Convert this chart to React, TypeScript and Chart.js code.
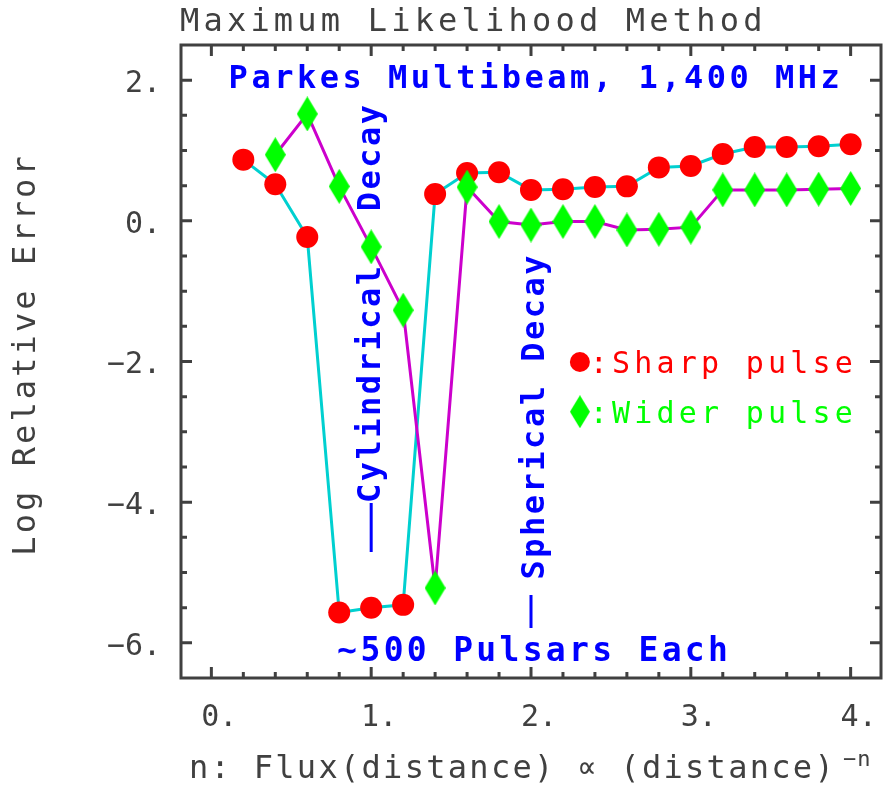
import React, { useEffect, useRef } from 'react';
import { Chart, registerables } from 'chart.js';

Chart.register(...registerables);

// ---------------- data ----------------
const nValues = [0.2, 0.4, 0.6, 0.8, 1.0, 1.2, 1.4, 1.6, 1.8, 2.0, 2.2, 2.4, 2.6, 2.8, 3.0, 3.2, 3.4, 3.6, 3.8, 4.0];
const sharpPulse = [0.87, 0.52, -0.23, -5.57, -5.5, -5.46, 0.38, 0.68, 0.69, 0.44, 0.45, 0.48, 0.49, 0.76, 0.78, 0.95, 1.05, 1.05, 1.06, 1.09];
const widerPulse = [null, 0.94, 1.52, 0.49, -0.37, -1.27, -5.22, 0.48, -0.01, -0.06, -0.01, -0.01, -0.13, -0.12, -0.09, 0.44, 0.44, 0.44, 0.45, 0.46];

const xTickValues = [0, 1, 2, 3, 4];
const xTickLabels = ['0.', '1.', '2.', '3.', '4.'];
const yTickValues = [2, 0, -2, -4, -6];
const yTickLabels = ['2.', '0.', '\u22122.', '\u22124.', '\u22126.'];
const xMinorTicks = [0, 0.2, 0.4, 0.6, 0.8, 1, 1.2, 1.4, 1.6, 1.8, 2, 2.2, 2.4, 2.6, 2.8, 3, 3.2, 3.4, 3.6, 3.8, 4];
const yMinorTicks = [2, 1.5, 1, 0.5, 0, -0.5, -1, -1.5, -2, -2.5, -3, -3.5, -4, -4.5, -5, -5.5, -6];

const titleText = 'Maximum Likelihood Method';
const xTitleText = 'n: Flux(distance) \u221D (distance)';
const xTitleSup = '\u2212n';
const yTitleText = 'Log Relative Error';
const surveyText = 'Parkes Multibeam, 1,400 MHz';
const countText = '\u223C500 Pulsars Each';
const cylText = 'Cylindrical';
const cylDecayText = 'Decay';
const sphText = 'Spherical Decay';
const sharpLabel = ':Sharp pulse';
const widerLabel = ':Wider pulse';

// ---------------- styles ----------------
const FONT = '"DejaVu Sans Mono", "Liberation Mono", monospace';
const GRAY = '#404040';
const BLUE = '#0000ff';
const RED = '#ff0000';
const GREEN = '#00ff00';
const CYAN = '#00d0d0';
const MAGENTA = '#cc00cc';

const X_MIN = -0.19;
const X_MAX = 4.19;
const Y_MIN = -6.5;
const Y_MAX = 2.5;

function makeDiamond(w: number, h: number, color: string): HTMLCanvasElement {
  const c = document.createElement('canvas');
  c.width = w;
  c.height = h;
  const g = c.getContext('2d')!;
  g.fillStyle = color;
  g.beginPath();
  g.moveTo(w / 2, 0);
  g.lineTo(w, h / 2);
  g.lineTo(w / 2, h);
  g.lineTo(0, h / 2);
  g.closePath();
  g.fill();
  return c;
}

function drawText(
  ctx: CanvasRenderingContext2D,
  str: string,
  x: number,
  y: number,
  size: number,
  color: string,
  spacing: number,
  align: CanvasTextAlign = 'left',
  rotate = 0,
  weight = 'normal'
) {
  ctx.save();
  ctx.translate(x, y);
  if (rotate) ctx.rotate(rotate);
  ctx.font = `${weight} ${size}px ${FONT}`;
  (ctx as any).letterSpacing = `${spacing}px`;
  ctx.fillStyle = color;
  ctx.textAlign = align;
  ctx.textBaseline = 'alphabetic';
  const dx = align === 'center' ? spacing / 2 : 0;
  ctx.fillText(str, dx, 0);
  ctx.restore();
}

export default function App() {
  const ref = useRef<HTMLCanvasElement>(null);

  useEffect(() => {
    document.body.style.margin = '0';
    const canvas = ref.current!;
    const diamond = makeDiamond(21, 35, GREEN);
    const legendDiamond = makeDiamond(20, 33, GREEN);

    const decor = {
      id: 'decor',
      beforeDatasetsDraw(chart: any) {
        const ctx: CanvasRenderingContext2D = chart.ctx;
        const xs = chart.scales.x;
        const ys = chart.scales.y;
        const X = (v: number) => xs.getPixelForValue(v);
        const Y = (v: number) => ys.getPixelForValue(v);
        const up = -Math.PI / 2;

        drawText(ctx, surveyText, X(2.02), Y(1.89), 32, BLUE, 3.5, 'center', 0, 'bold');
        drawText(ctx, countText, X(2.01), Y(-6.26), 33, BLUE, 3.3, 'center', 0, 'bold');
        drawText(ctx, cylText, X(1.058), Y(-2.327), 32, BLUE, 2.5, 'center', up, 'bold');
        drawText(ctx, cylDecayText, X(1.058), Y(0.893), 32, BLUE, 2.5, 'center', up, 'bold');
        drawText(ctx, sphText, X(2.083), Y(-2.796), 32, BLUE, 2.5, 'center', up, 'bold');

        ctx.save();
        ctx.strokeStyle = BLUE;
        ctx.lineWidth = 3;
        ctx.beginPath();
        ctx.moveTo(X(1.0), Y(-4.012));
        ctx.lineTo(X(1.0), Y(-4.709));
        ctx.moveTo(X(2.0), Y(-5.32));
        ctx.lineTo(X(2.0), Y(-5.789));
        ctx.stroke();
        ctx.restore();
      },
      afterDraw(chart: any) {
        const ctx: CanvasRenderingContext2D = chart.ctx;
        const xs = chart.scales.x;
        const ys = chart.scales.y;
        const X = (v: number) => xs.getPixelForValue(v);
        const Y = (v: number) => ys.getPixelForValue(v);
        const { left, right, top, bottom } = chart.chartArea;

        // frame and inward ticks
        ctx.save();
        ctx.strokeStyle = GRAY;
        ctx.lineWidth = 3;
        ctx.strokeRect(left, top, right - left, bottom - top);
        ctx.beginPath();
        for (const v of xMinorTicks) {
          const px = X(v);
          const len = xTickValues.includes(v) ? 11 : 6;
          ctx.moveTo(px, bottom);
          ctx.lineTo(px, bottom - len);
          ctx.moveTo(px, top);
          ctx.lineTo(px, top + len);
        }
        for (const v of yMinorTicks) {
          const py = Y(v);
          const len = yTickValues.includes(v) ? 11 : 6;
          ctx.moveTo(left, py);
          ctx.lineTo(left + len, py);
          ctx.moveTo(right, py);
          ctx.lineTo(right - len, py);
        }
        ctx.stroke();
        ctx.restore();

        // titles
        drawText(ctx, titleText, 180, 31, 32, GRAY, 4.2, 'left');
        drawText(ctx, xTitleText, 189, 778, 32, GRAY, 2.3, 'left');
        drawText(ctx, xTitleSup, 843, 766, 22, GRAY, 1, 'left');
        drawText(ctx, yTitleText, 35, 356, 32, GRAY, 3.1, 'center', -Math.PI / 2);

        // legend
        ctx.save();
        ctx.fillStyle = RED;
        ctx.beginPath();
        ctx.arc(X(2.306), Y(-2.007), 10, 0, Math.PI * 2);
        ctx.fill();
        ctx.drawImage(
          legendDiamond,
          X(2.306) - legendDiamond.width / 2,
          Y(-2.714) - legendDiamond.height / 2
        );
        ctx.restore();
        drawText(ctx, sharpLabel, X(2.368), Y(-2.168), 30, RED, 4.2, 'left');
        drawText(ctx, widerLabel, X(2.368), Y(-2.879), 30, GREEN, 4.2, 'left');
      },
    };

    const chart = new Chart(canvas, {
      type: 'line',
      data: {
        datasets: [
          {
            label: 'Sharp pulse',
            data: nValues.map((n, i) => ({ x: n, y: sharpPulse[i] })),
            borderColor: CYAN,
            borderWidth: 3,
            pointRadius: 11,
            pointHoverRadius: 11,
            pointBackgroundColor: RED,
            pointBorderColor: RED,
            pointBorderWidth: 0,
            pointStyle: 'circle',
            tension: 0,
            fill: false,
            order: 2,
          },
          {
            label: 'Wider pulse',
            data: nValues.map((n, i) => ({ x: n, y: widerPulse[i] })),
            borderColor: MAGENTA,
            borderWidth: 3,
            pointRadius: 11,
            pointHoverRadius: 11,
            pointBackgroundColor: GREEN,
            pointBorderWidth: 0,
            pointStyle: diamond,
            tension: 0,
            fill: false,
            order: 1,
          },
        ],
      } as any,
      options: {
        animation: false,
        responsive: false,
        events: [],
        layout: { padding: { top: 45, right: 2, left: 0, bottom: 0 } },
        plugins: {
          legend: { display: false },
          tooltip: { enabled: false },
          title: { display: false },
        },
        scales: {
          x: {
            type: 'linear',
            min: X_MIN,
            max: X_MAX,
            bounds: 'data',
            grid: { display: false, drawTicks: false },
            border: { display: false },
            afterBuildTicks: (s: any) => {
              s.ticks = xTickValues.map((v) => ({ value: v }));
            },
            afterFit: (s: any) => {
              s.height = 126;
            },
            ticks: {
              autoSkip: false,
              maxRotation: 0,
              minRotation: 0,
              padding: 22,
              labelOffset: 8,
              color: GRAY,
              font: { family: FONT, size: 30 },
              callback: (v: any) => {
                const i = xTickValues.indexOf(Number(v));
                return i >= 0 ? xTickLabels[i] : '';
              },
            },
          },
          y: {
            type: 'linear',
            min: Y_MIN,
            max: Y_MAX,
            bounds: 'data',
            grid: { display: false, drawTicks: false },
            border: { display: false },
            afterBuildTicks: (s: any) => {
              s.ticks = yTickValues.map((v) => ({ value: v }));
            },
            afterFit: (s: any) => {
              s.width = 181;
            },
            ticks: {
              autoSkip: false,
              padding: 20,
              labelOffset: 4,
              color: GRAY,
              font: { family: FONT, size: 30 },
              callback: (v: any) => {
                const i = yTickValues.indexOf(Number(v));
                return i >= 0 ? yTickLabels[i] : '';
              },
            },
          },
        },
      } as any,
      plugins: [decor],
    });

    return () => chart.destroy();
  }, []);

  return (
    <canvas
      ref={ref}
      width={892}
      height={804}
      style={{ display: 'block', width: 892, height: 804 }}
    />
  );
}
